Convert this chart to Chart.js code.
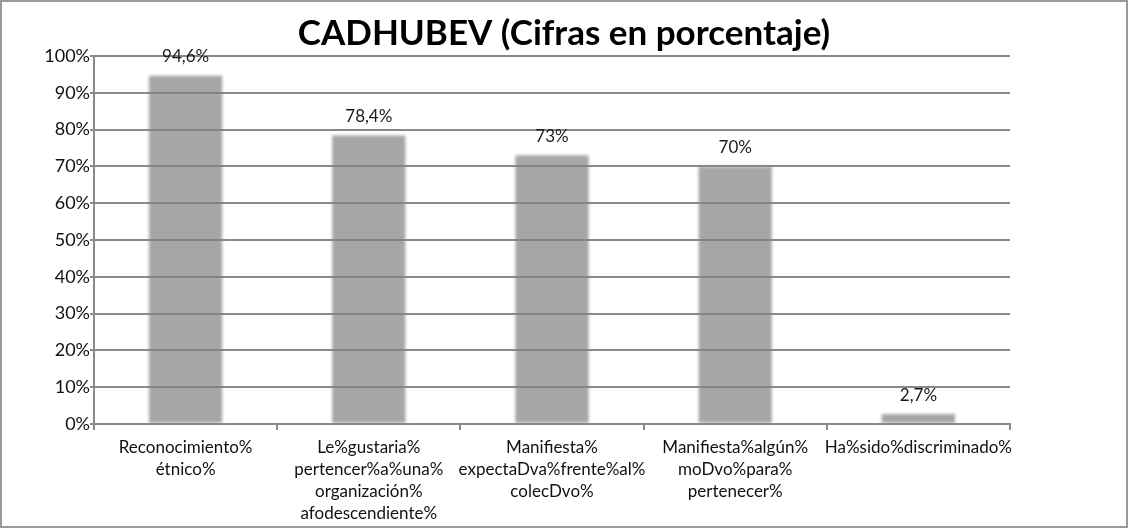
<!DOCTYPE html>
<html>
<head>
<meta charset="utf-8">
<script src="https://cdn.jsdelivr.net/npm/chart.js@4.4.1/dist/chart.umd.min.js"></script>
<style>
  html, body { margin: 0; padding: 0; background: #fff; }
  #wrap { width: 1128px; height: 528px; position: relative; }
</style>
</head>
<body>
<div id="wrap"><canvas id="chart"></canvas></div>
<script>
/* ----------------------------------
 * DATA
 * ---------------------------------- */
const categories = [
    ["Reconocimiento%", "étnico%"],
    ["Le%gustaria%", "pertencer%a%una%", "organización%", "afodescendiente%"],
    ["Manifiesta%", "expectaDva%frente%al%", "colecDvo%"],
    ["Manifiesta%algún%", "moDvo%para%", "pertenecer%"],
    ["Ha%sido%discriminado%"]
];
const values = [94.6, 78.4, 73, 70, 2.7];
const valueLabels = ["94,6%", "78,4%", "73%", "70%", "2,7%"];
const yTicks = [0, 10, 20, 30, 40, 50, 60, 70, 80, 90, 100];

const GRID = "#8a8a8a";
const FONT = "Lato, 'Open Sans', sans-serif";

/* ----------------------------------
 * PLUGINS
 * ---------------------------------- */
const frame = {
    id: "frame",
    beforeDraw(chart) {
        const c = chart.ctx;
        c.save();
        c.strokeStyle = "#9a9a9a";
        c.lineWidth = 2;
        c.strokeRect(1, 1, chart.width - 2, chart.height - 2);
        c.restore();
    }
};

const softBars = {
    id: "softBars",
    beforeDatasetsDraw(chart) {
        chart.ctx.save();
        chart.ctx.filter = "blur(1.5px)";
    },
    afterDatasetsDraw(chart) {
        chart.ctx.restore();
    }
};

const valueText = {
    id: "valueText",
    afterDraw(chart) {
        const c = chart.ctx;
        const meta = chart.getDatasetMeta(0);
        c.save();
        c.font = "17px " + FONT;
        c.fillStyle = "#1a1a1a";
        c.textAlign = "center";
        c.textBaseline = "middle";
        meta.data.forEach((bar, i) => {
            c.fillText(valueLabels[i], bar.x, bar.y - 19);
        });
        c.restore();
    }
};

/* ----------------------------------
 * CHART
 * ---------------------------------- */
new Chart(document.getElementById("chart"), {
    type: "bar",
    data: {
        labels: categories,
        datasets: [{
            data: values,
            backgroundColor: "rgba(128,128,128,0.7)",
            borderWidth: 0,
            barPercentage: 0.4,
            categoryPercentage: 1
        }]
    },
    options: {
        responsive: true,
        maintainAspectRatio: false,
        animation: false,
        layout: { padding: 0 },
        plugins: {
            legend: { display: false },
            tooltip: { enabled: false },
            title: {
                display: true,
                text: "CADHUBEV (Cifras en porcentaje)",
                color: "#000",
                font: { family: FONT, size: 35, weight: "bold", lineHeight: 1.2 },
                padding: { top: 13, bottom: 1 }
            }
        },
        scales: {
            x: {
                grid: { display: true, drawOnChartArea: false, drawTicks: true, tickLength: 6, color: GRID, lineWidth: 2, offset: true },
                border: { color: GRID, width: 2 },
                ticks: { color: "#111", font: { family: FONT, size: 17, lineHeight: 1.3 }, padding: 6, maxRotation: 0, autoSkip: false },
                afterFit: s => { s.height = 104; }
            },
            y: {
                min: 0,
                max: 100,
                afterBuildTicks: s => { s.ticks = yTicks.map(v => ({ value: v })); },
                grid: { color: GRID, lineWidth: 2, tickLength: 4 },
                border: { color: GRID, width: 2 },
                ticks: { color: "#111", font: { family: FONT, size: 18 }, padding: 0, callback: v => v + "%" },
                afterFit: s => { s.width = 94; }
            },
            y2: {
                position: "right",
                display: true,
                grid: { drawOnChartArea: false, display: false },
                border: { display: false },
                ticks: { display: false },
                afterFit: s => { s.width = 118; }
            }
        }
    },
    plugins: [frame, softBars, valueText]
});
</script>
</body>
</html>
